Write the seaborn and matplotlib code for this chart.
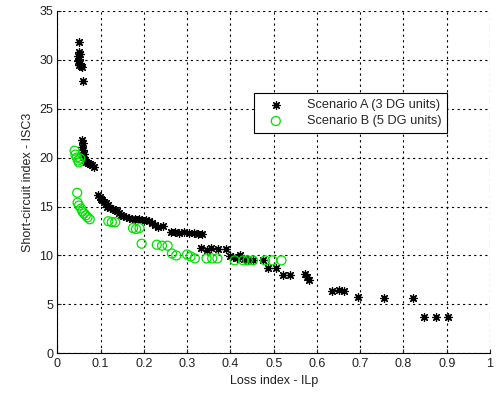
import matplotlib
matplotlib.use("Agg")
from matplotlib import pyplot as plt
import seaborn as sns
import pandas as pd

# Scenario A (3 DG units)
loss_a = [0.050, 0.050, 0.052, 0.048, 0.050, 0.047, 0.052, 0.050, 0.055, 0.058, 0.059,
          0.058, 0.060, 0.057, 0.060, 0.062, 0.060, 0.063, 0.066, 0.070, 0.075, 0.080, 0.085,
          0.095, 0.098, 0.100, 0.104, 0.108, 0.112, 0.118, 0.115, 0.122, 0.128, 0.133, 0.138,
          0.142, 0.148, 0.153, 0.158, 0.165, 0.172, 0.180, 0.188, 0.196, 0.205, 0.212, 0.218,
          0.225, 0.232, 0.245, 0.262, 0.272, 0.282, 0.292, 0.305, 0.315, 0.325, 0.335,
          0.332, 0.345, 0.355, 0.372, 0.390, 0.398, 0.405, 0.415, 0.422, 0.432, 0.440, 0.452,
          0.475, 0.488, 0.505, 0.522, 0.538, 0.572, 0.578, 0.582, 0.635, 0.650, 0.662,
          0.695, 0.755, 0.822, 0.848, 0.875, 0.902]
isc_a = [31.8, 30.8, 30.6, 30.4, 30.1, 29.9, 29.7, 29.5, 29.3, 29.2, 27.8,
         21.8, 21.5, 21.1, 20.8, 20.4, 20.1, 19.8, 19.5, 19.4, 19.3, 19.2, 19.0,
         16.2, 16.0, 15.8, 15.7, 15.5, 15.4, 15.2, 14.9, 14.8, 14.7, 14.6, 14.5,
         14.3, 14.1, 14.0, 13.9, 13.8, 13.7, 13.7, 13.7, 13.6, 13.6, 13.5, 13.3,
         13.1, 12.9, 13.0, 12.4, 12.4, 12.3, 12.4, 12.3, 12.3, 12.2, 12.2,
         10.8, 10.6, 10.8, 10.7, 10.7, 9.9, 9.8, 9.7, 10.0, 9.6, 9.5, 9.5,
         9.5, 8.7, 8.7, 8.0, 8.0, 8.1, 7.8, 7.5, 6.4, 6.5, 6.4,
         5.8, 5.7, 5.7, 3.7, 3.7, 3.7]

# Scenario B (5 DG units)
loss_b = [0.040, 0.042, 0.045, 0.048, 0.050, 0.053, 0.046, 0.047, 0.050, 0.055, 0.058,
          0.062, 0.066, 0.070, 0.075, 0.118, 0.126, 0.134, 0.175, 0.182, 0.190, 0.195,
          0.230, 0.242, 0.255, 0.265, 0.275, 0.300, 0.308, 0.318, 0.345, 0.358, 0.370,
          0.410, 0.430, 0.440, 0.452, 0.480, 0.497, 0.518]
isc_b = [20.7, 20.3, 20.0, 19.7, 19.5, 19.9, 16.4, 15.4, 15.1, 14.8, 14.5,
         14.3, 14.1, 13.9, 13.7, 13.5, 13.4, 13.4, 12.8, 12.7, 12.8, 11.2,
         11.1, 11.0, 11.0, 10.2, 10.0, 10.1, 9.9, 9.7, 9.7, 9.7, 9.7,
         9.5, 9.5, 9.5, 9.5, 9.5, 9.5, 9.5]

df_a = pd.DataFrame({"loss": loss_a, "isc": isc_a})
df_b = pd.DataFrame({"loss": loss_b, "isc": isc_b})

sns.set_style("white")
plt.rcParams['font.family'] = ['Liberation Sans', 'DejaVu Sans']

fig = plt.figure(figsize=(4.98, 3.94), dpi=100)
ax = fig.add_axes([0.115, 0.103, 0.869, 0.870])

sns.scatterplot(data=df_a, x="loss", y="isc", ax=ax, marker=(8, 2, 0), s=32,
                color="black", linewidth=0.9, label="Scenario A (3 DG units)", zorder=3)
sns.scatterplot(data=df_b, x="loss", y="isc", ax=ax, marker="o", s=42,
                facecolor="none", edgecolor="#00e000", linewidth=0.9,
                label="Scenario B (5 DG units)", zorder=3)

ax.set_xlim(0, 1)
ax.set_ylim(0, 35)
ax.set_xticks([0, 0.1, 0.2, 0.3, 0.4, 0.5, 0.6, 0.7, 0.8, 0.9, 1])
ax.set_xticklabels(["0", "0.1", "0.2", "0.3", "0.4", "0.5", "0.6", "0.7", "0.8", "0.9", "1"])
ax.set_yticks(range(0, 36, 5))
ax.grid(True, linestyle=(0, (2, 3)), color="black", linewidth=0.8)
ax.set_axisbelow(True)
sns.despine(ax=ax)
ax.spines['left'].set_color('black')
ax.spines['bottom'].set_color('black')
ax.tick_params(axis='both', direction='in', length=3, colors='#202020', labelsize=9,
               left=True, bottom=True, pad=3)
ax.set_xlabel("Loss index - ILp", fontsize=9, color='#202020')
ax.set_ylabel("Short-circuit index - ISC3", fontsize=9, color='#202020')

leg = ax.legend(loc="upper left", bbox_to_anchor=(0.44, 0.778), fontsize=9.2,
                frameon=True, fancybox=False, framealpha=1, edgecolor="black",
                borderpad=0.45, handletextpad=1.2, handlelength=2.5, labelspacing=0.35)
leg.get_frame().set_linewidth(0.8)

plt.savefig("out.png", dpi=100)
